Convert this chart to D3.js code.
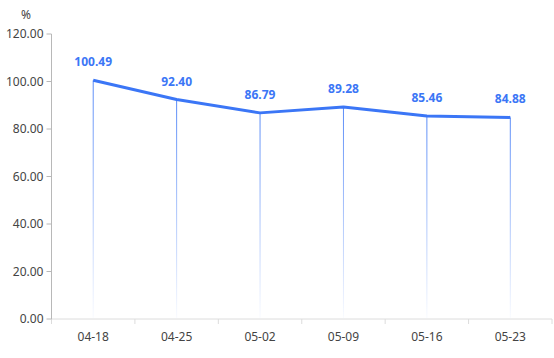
<!DOCTYPE html>
<html><head><meta charset="utf-8">
<script src="https://cdn.jsdelivr.net/npm/d3@7"></script>
<style>body{margin:0;background:#fff}svg{display:block}text{font-family:"Noto Sans","Open Sans",sans-serif}</style>
</head><body>
<svg id="c" width="554" height="358"></svg>
<script>
const categories = ["04-18","04-25","05-02","05-09","05-16","05-23"];
const values = [100.49, 92.40, 86.79, 89.28, 85.46, 84.88];
const yTicks = [0,20,40,60,80,100,120];
const unit = "%";

const W=554,H=358, m={l:51.5,r:2,t:34,b:39};
const svg=d3.select("#c");
const x=d3.scaleBand().domain(categories).range([m.l,W-m.r]);
const y=d3.scaleLinear().domain([0,120]).range([H-m.b,m.t]);
const cx=d=>x(d)+x.bandwidth()/2;

const defs=svg.append("defs");
const g=defs.append("linearGradient").attr("id","dg").attr("x1",0).attr("y1",0).attr("x2",0).attr("y2",1);
g.append("stop").attr("offset","0%").attr("stop-color","#3b76f6").attr("stop-opacity",0.85);
g.append("stop").attr("offset","100%").attr("stop-color","#3b76f6").attr("stop-opacity",0.03);

// x axis
const xa=svg.append("g").attr("transform",`translate(0,${y(0)})`);
xa.append("line").attr("x1",m.l).attr("x2",W-m.r).attr("stroke","#dcdcdc");
const bounds=categories.map(c=>x(c)).concat([x(categories[categories.length-1])+x.bandwidth()]);
xa.selectAll(".t").data(bounds).join("line").attr("x1",d=>d).attr("x2",d=>d).attr("y1",0).attr("y2",5).attr("stroke","#dcdcdc");
xa.selectAll("text").data(categories).join("text").attr("x",cx).attr("y",22).attr("text-anchor","middle")
  .attr("font-size",12).attr("fill","#444").text(d=>d);

// y axis
const ya=svg.append("g");
ya.append("line").attr("x1",m.l).attr("x2",m.l).attr("y1",y(0)).attr("y2",y(120)).attr("stroke","#b8b8b8");
ya.selectAll(".t").data(yTicks).join("line").attr("x1",m.l-5).attr("x2",m.l).attr("y1",d=>y(d)).attr("y2",d=>y(d)).attr("stroke","#b8b8b8");
ya.selectAll("text").data(yTicks).join("text").attr("x",m.l-8).attr("y",d=>y(d)).attr("dy","0.35em")
  .attr("text-anchor","end").attr("font-size",12).attr("fill","#444").text(d=>d.toFixed(2));
svg.append("text").attr("x",26).attr("y",19).attr("text-anchor","middle").attr("font-size",12).attr("fill","#444").text(unit);

// drop lines
svg.selectAll(".drop").data(categories).join("rect")
  .attr("x",d=>cx(d)-0.5).attr("width",1)
  .attr("y",(d,i)=>y(values[i])).attr("height",(d,i)=>y(0)-y(values[i])-1)
  .attr("fill","url(#dg)");

// line
const line=d3.line().x((d,i)=>cx(categories[i])).y(d=>y(d));
svg.append("path").datum(values).attr("d",line).attr("fill","none").attr("stroke","#3b76f6").attr("stroke-width",3).attr("stroke-linejoin","round");

// labels
svg.selectAll(".lbl").data(values).join("text")
  .attr("x",(d,i)=>cx(categories[i])).attr("y",d=>y(d)-14)
  .attr("text-anchor","middle").attr("font-size",12).attr("font-weight","bold").attr("fill","#3b76f6")
  .text(d=>d.toFixed(2));
</script>
</body></html>
